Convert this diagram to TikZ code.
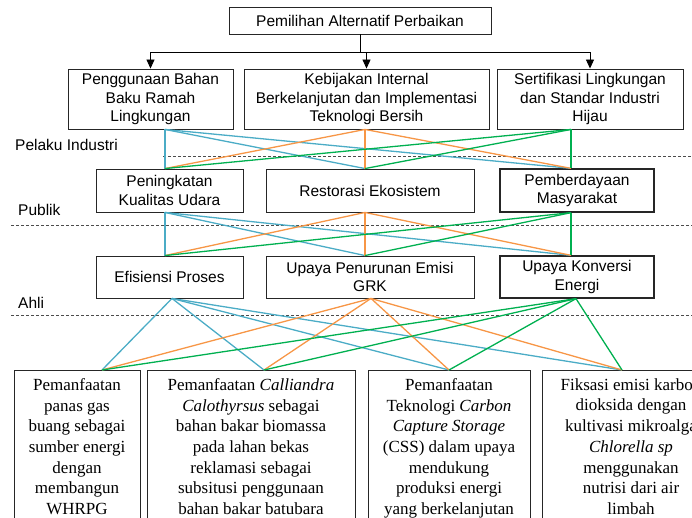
\documentclass[tikz,border=0pt]{standalone}
\usepackage{fontspec}
\setmainfont{Liberation Sans}
\newfontfamily\hurufserif{Liberation Serif}
\usetikzlibrary{arrows.meta}
\definecolor{biru}{RGB}{75,172,198}
\definecolor{oranye}{RGB}{247,150,70}
\definecolor{hijau}{RGB}{0,176,80}

\begin{document}
\begin{tikzpicture}[x=1pt, y=-1pt,
	font=\fontsize{15.5}{18.3}\selectfont,
	kotak/.style={draw=black!85, line width=0.9pt, align=center, inner sep=2pt},
	alt/.style={kotak, anchor=north, inner xsep=4pt, inner ysep=8pt, font=\hurufserif\fontsize{17}{20.7}\selectfont},
	hubung/.style={line width=1.3pt},
	panah/.style={draw=black, line width=0.9pt, -{Triangle[length=9pt,width=8pt]}},
	batas/.style={draw=black!70, line width=0.7pt, dash pattern=on 3pt off 2pt}]
	\useasboundingbox (0,0) rectangle (692,518);
	\clip (0,0) rectangle (692,518);

	% tujuan
	\node[kotak, minimum width=262, minimum height=27] (pilih) at (360,20.5) {Pemilihan Alternatif Perbaikan};

	% pelaku industri
	\node[kotak, minimum width=165, minimum height=60] (ind1) at (150.5,99) {Penggunaan Bahan\\ Baku Ramah\\ Lingkungan};
	\node[kotak, minimum width=245, minimum height=60] (ind2) at (366.5,99) {Kebijakan Internal\\ Berkelanjutan dan Implementasi\\ Teknologi Bersih};
	\node[kotak, minimum width=186, minimum height=60] (ind3) at (590,99) {Sertifikasi Lingkungan\\ dan Standar Industri\\ Hijau};

	% publik
	\node[kotak, minimum width=147, minimum height=43] (pub1) at (169.5,190.5) {Peningkatan\\ Kualitas Udara};
	\node[kotak, minimum width=208, minimum height=43] (pub2) at (370,190.5) {Restorasi Ekosistem};
	\node[kotak, line width=1.3pt, minimum width=154, minimum height=43] (pub3) at (577,190.5) {Pemberdayaan\\ Masyarakat};

	% ahli
	\node[kotak, minimum width=147, minimum height=42] (ahl1) at (169.5,277) {Efisiensi Proses};
	\node[kotak, minimum width=208, minimum height=42] (ahl2) at (370,277) {Upaya Penurunan Emisi\\ GRK};
	\node[kotak, line width=1.3pt, minimum width=154, minimum height=42] (ahl3) at (577,277) {Upaya Konversi\\ Energi};

	% alternatif
	\node[alt, minimum width=126] (alt1) at (77,370) {Pemanfaatan\\ panas gas\\ buang sebagai\\ sumber energi\\ dengan\\ membangun\\ WHRPG};
	\node[alt, minimum width=208] (alt2) at (251,370) {Pemanfaatan \textit{Calliandra}\\ \textit{Calothyrsus} sebagai\\ bahan bakar biomassa\\ pada lahan bekas\\ reklamasi sebagai\\ subsitusi penggunaan\\ bahan bakar batubara};
	\node[alt, minimum width=162] (alt3) at (449,370) {Pemanfaatan\\ Teknologi \textit{Carbon}\\ \textit{Capture Storage}\\ (CSS) dalam upaya\\ mendukung\\ produksi energi\\ yang berkelanjutan};
	\node[alt, minimum width=178] (alt4) at (631,370) {Fiksasi emisi karbon\\ dioksida dengan\\ kultivasi mikroalga\\ \textit{Chlorella sp}\\ menggunakan\\ nutrisi dari air\\ limbah};

	% label tingkat
	\node[anchor=west, inner sep=0pt] (lbind) at (15,145) {Pelaku Industri};
	\node[anchor=west, inner sep=0pt] (lbpub) at (18,210) {Publik};
	\node[anchor=west, inner sep=0pt] (lbahl) at (18,303) {Ahli};

	% garis putus
	\draw[batas] (163,156) -- (692,156);
	\draw[batas] (11,225.5) -- (692,225.5);
	\draw[batas] (11,315) -- (692,315);

	% fleche
	\foreach \n in {ind1,ind2,ind3}
		\draw[panah] (pilih.south) -- ++(0,18) -| (\n.north);

	% titik hubung
	\foreach \n/\dx in {ind1/14.5, ind2/-1.5, ind3/-19}
		\coordinate (\n-b) at ([xshift=\dx pt]\n.south);
	\foreach \n/\dx in {pub1/-4.5, pub2/-5, pub3/-6} {
		\coordinate (\n-a) at ([xshift=\dx pt]\n.north);
		\coordinate (\n-b) at ([xshift=\dx pt]\n.south);
	}
	\foreach \n/\dx in {ahl1/-4.5, ahl2/-5, ahl3/-6}
		\coordinate (\n-a) at ([xshift=\dx pt]\n.north);
	\foreach \n/\dx in {ahl1/2.5, ahl2/1, ahl3/-1}
		\coordinate (\n-b) at ([xshift=\dx pt]\n.south);
	\foreach \n/\dx in {alt1/25, alt2/13, alt3/0, alt4/-9}
		\coordinate (\n-a) at ([xshift=\dx pt]\n.north);

	% hubungan
	\foreach \i/\w in {1/biru,2/oranye,3/hijau} {
		\foreach \j in {1,2,3} {
			\draw[hubung, \w] (ind\i-b) -- (pub\j-a);
			\draw[hubung, \w] (pub\i-b) -- (ahl\j-a);
		}
		\foreach \j in {1,2,3,4}
			\draw[hubung, \w] (ahl\i-b) -- (alt\j-a);
	}
\end{tikzpicture}
\end{document}
